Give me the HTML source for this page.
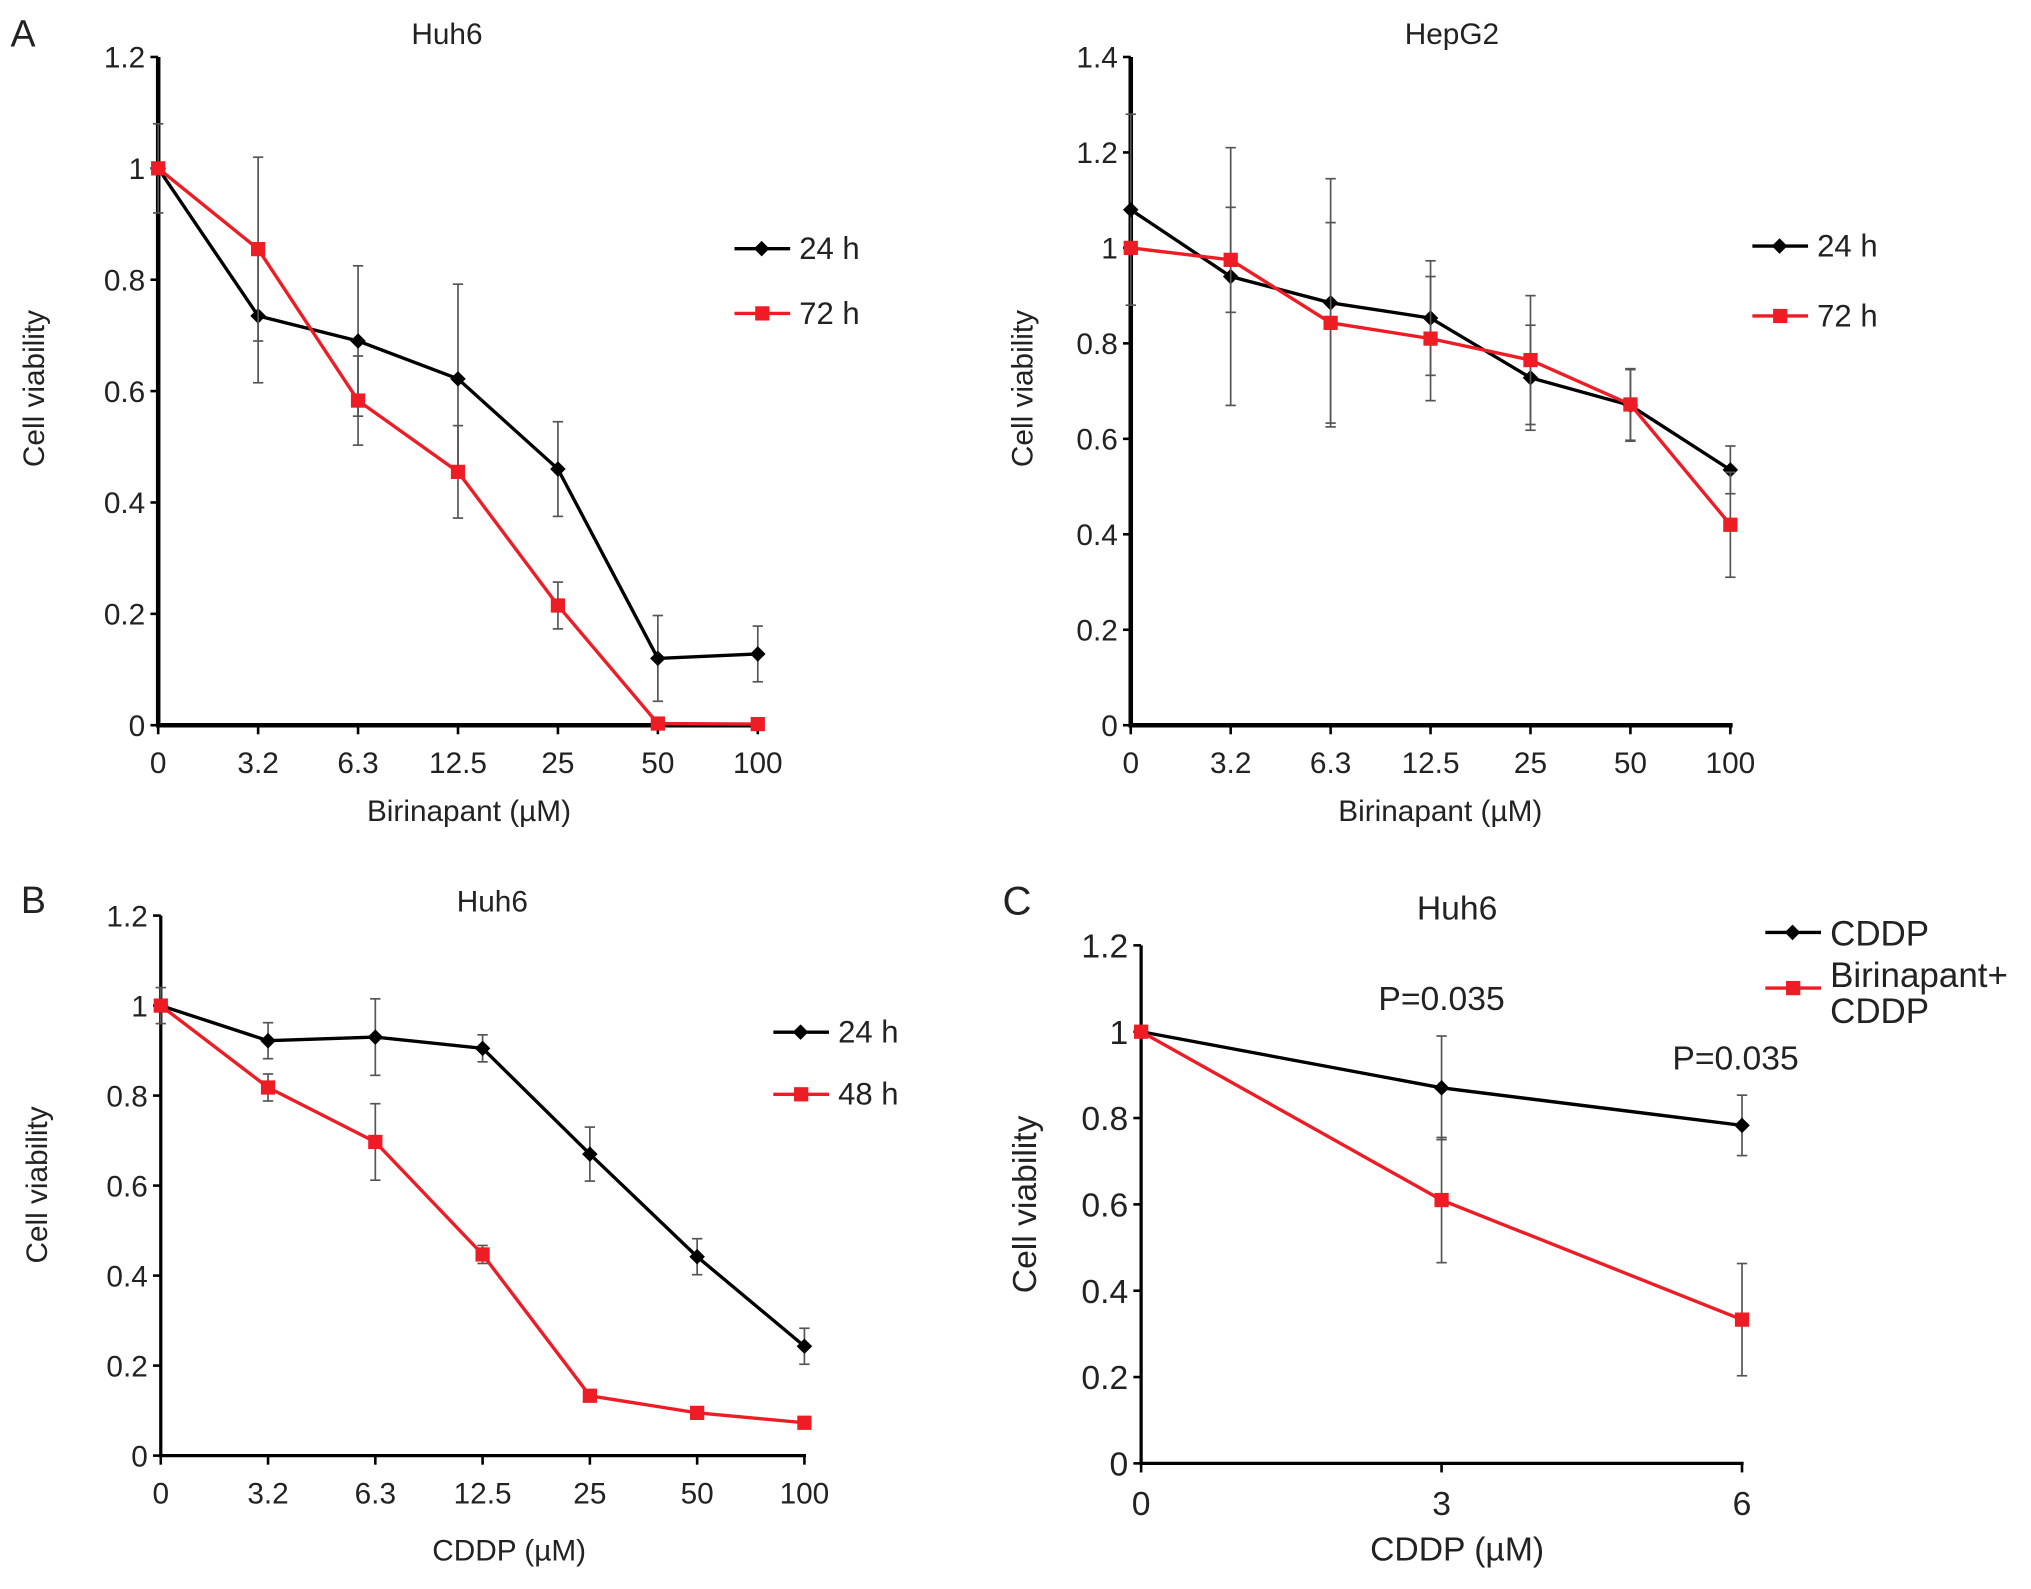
<!DOCTYPE html>
<html><head><meta charset="utf-8"><style>
html,body{margin:0;padding:0;background:#fff}
svg{display:block}
text{font-family:"Liberation Sans",Arial,sans-serif;fill:#222}
</style></head><body>
<svg id="fig" width="2031" height="1589" viewBox="0 0 1568 1227" xmlns="http://www.w3.org/2000/svg"></svg>
<script>
// Panel A Huh6
const xCatsA = ["0","3.2","6.3","12.5","25","50","100"];
const a1_24 = [1, 0.735, 0.69, 0.622, 0.46, 0.12, 0.128];
const a1_24e = [0.08, 0.12, 0.135, 0.17, 0.085, 0.077, 0.05];
const a1_72 = [1, 0.855, 0.583, 0.455, 0.215, 0.003, 0.002];
const a1_72e = [0.0, 0.165, 0.08, 0.083, 0.042, 0.0, 0.0];
const yTicksA1 = [0,0.2,0.4,0.6,0.8,1,1.2];
// Panel A HepG2
const a2_24 = [1.08, 0.94, 0.885, 0.853, 0.728, 0.67, 0.535];
const a2_24e = [0.2, 0.27, 0.26, 0.12, 0.11, 0.075, 0.05];
const a2_72 = [1, 0.975, 0.843, 0.81, 0.765, 0.672, 0.42];
const a2_72e = [0.0, 0.11, 0.21, 0.13, 0.135, 0.075, 0.11];
const yTicksA2 = [0,0.2,0.4,0.6,0.8,1,1.2,1.4];
// Panel B
const b_24 = [1, 0.922, 0.93, 0.905, 0.67, 0.442, 0.243];
const b_24e = [0.04, 0.04, 0.085, 0.03, 0.06, 0.04, 0.04];
const b_48 = [1, 0.818, 0.697, 0.447, 0.133, 0.095, 0.073];
const b_48e = [0.0, 0.03, 0.085, 0.02, 0.01, 0.01, 0.01];
// Panel C
const xCatsC = ["0","3","6"];
const c_cddp = [1, 0.87, 0.783];
const c_cddpE = [0, 0.12, 0.07];
const c_comb = [1, 0.61, 0.333];
const c_combE = [0, 0.145, 0.13];
const pLabels = ["P=0.035","P=0.035"];

const NS="http://www.w3.org/2000/svg";
const svg=document.getElementById('fig');
function el(tag,attrs,parent,txt){const e=document.createElementNS(NS,tag);for(const k in attrs)e.setAttribute(k,attrs[k]);if(txt!==undefined)e.textContent=txt;(parent||svg).appendChild(e);return e;}

function panel(cfg){
  const fs=cfg.fs||23;
  const g=el('g',{});
  
  
  const n=cfg.cats.length;
  const xs=i=>cfg.x0+(cfg.x1-cfg.x0)*i/(n-1);
  const ys=v=>cfg.y0-(cfg.y0-cfg.yTop)*v/cfg.yMax;
  const ya=el('line',{x1:cfg.x0,y1:cfg.yTop,x2:cfg.x0,y2:cfg.y0,stroke:'#000','stroke-width':cfg.aw},g);
  
  const xa=el('line',{x1:cfg.x0-cfg.aw/2,y1:cfg.y0,x2:cfg.x1+cfg.aw/2,y2:cfg.y0,stroke:'#000','stroke-width':cfg.aw},g);
  
  cfg.yTicks.forEach(v=>{
    el('line',{x1:cfg.x0-6,y1:ys(v),x2:cfg.x0,y2:ys(v),stroke:'#000','stroke-width':2},g);
    const t=el('text',{x:cfg.x0-10,y:ys(v)+fs*0.36,'text-anchor':'end','font-size':fs},g,String(v));
    
  });
  cfg.cats.forEach((c,i)=>{
    el('line',{x1:xs(i),y1:cfg.y0,x2:xs(i),y2:cfg.y0+7,stroke:'#000','stroke-width':2},g);
    const t=el('text',{x:xs(i),y:cfg.y0+14+fs,'text-anchor':'middle','font-size':fs},g,c);
    
  });
  cfg.series.forEach(s=>{
    const sg=el('g',{},g);
    
    s.vals.forEach((v,i)=>{
      const e=s.err[i]; if(e>0){
        const x=xs(i);
        el('line',{x1:x,y1:ys(v-e),x2:x,y2:ys(v+e),stroke:'#555','stroke-width':1.3},sg);
        el('line',{x1:x-4,y1:ys(v+e),x2:x+4,y2:ys(v+e),stroke:'#555','stroke-width':1.3},sg);
        el('line',{x1:x-4,y1:ys(v-e),x2:x+4,y2:ys(v-e),stroke:'#555','stroke-width':1.3},sg);
      }
    });
    const pts=s.vals.map((v,i)=>xs(i)+','+ys(v)).join(' ');
    const pl=el('polyline',{points:pts,fill:'none',stroke:s.color,'stroke-width':2.6},sg);
    
    s.vals.forEach((v,i)=>{
      let m;
      if(s.marker==='sq') m=el('rect',{x:xs(i)-5.5,y:ys(v)-5.5,width:11,height:11,fill:s.color},sg);
      else m=el('polygon',{points:`${xs(i)},${ys(v)-6} ${xs(i)+6},${ys(v)} ${xs(i)},${ys(v)+6} ${xs(i)-6},${ys(v)}`,fill:s.color},sg);
      
    });
  });
  const tt=el('text',{x:cfg.titleX,y:cfg.titleY,'text-anchor':'middle','font-size':cfg.tfs||23},g,cfg.title);
  
  const yl=el('text',{x:0,y:0,'text-anchor':'middle','font-size':fs,transform:`translate(${cfg.ylX},${cfg.ylY}) rotate(-90)`},g,'Cell viability');
  
  const xl=el('text',{x:cfg.xlX,y:cfg.xlY,'text-anchor':'middle','font-size':fs},g,cfg.xlabel);
  
  const lt=el('text',{x:cfg.letterX,y:cfg.letterY,'font-size':cfg.lfs||29},g,cfg.letter);
  
  cfg.legend.forEach(L=>{
    const lg=el('g',{},g);
    
    el('line',{x1:L.x,y1:L.y,x2:L.x+43,y2:L.y,stroke:L.color,'stroke-width':2.6},lg);
    if(L.marker==='sq') el('rect',{x:L.x+16,y:L.y-5.5,width:11,height:11,fill:L.color},lg);
    else el('polygon',{points:`${L.x+21},${L.y-6} ${L.x+27},${L.y} ${L.x+21},${L.y+6} ${L.x+15},${L.y}`,fill:L.color},lg);
    L.text.forEach((t,k)=>el('text',{x:L.x+50,y:L.ty+k*28,'font-size':cfg.legfs||24},lg,t));
  });
  return {g,xs,ys};
}

panel({name:'panel-a-huh6',cats:xCatsA,x0:122,x1:585,y0:560,yTop:44,yMax:1.2,yTicks:yTicksA1,aw:3.5,
  series:[{key:'24h',vals:a1_24,err:a1_24e,color:'#000',marker:'d'},{key:'72h',vals:a1_72,err:a1_72e,color:'#ee1c25',marker:'sq'}],
  title:'Huh6',titleX:345,titleY:34,ylX:34,ylY:300,xlabel:'Birinapant (\u00b5M)',xlX:362,xlY:634,letter:'A',letterX:8,letterY:36,
  legend:[{x:567,y:192,ty:200,color:'#000',marker:'d',text:['24 h']},{x:567,y:242,ty:250,color:'#ee1c25',marker:'sq',text:['72 h']}]});

panel({name:'panel-a-hepg2',cats:xCatsA,x0:873,x1:1336,y0:560,yTop:44,yMax:1.4,yTicks:yTicksA2,aw:3.5,
  series:[{key:'24h',vals:a2_24,err:a2_24e,color:'#000',marker:'d'},{key:'72h',vals:a2_72,err:a2_72e,color:'#ee1c25',marker:'sq'}],
  title:'HepG2',titleX:1121,titleY:34,ylX:797,ylY:300,xlabel:'Birinapant (\u00b5M)',xlX:1112,xlY:634,letter:'',letterX:0,letterY:0,
  legend:[{x:1353,y:190,ty:198,color:'#000',marker:'d',text:['24 h']},{x:1353,y:244,ty:252,color:'#ee1c25',marker:'sq',text:['72 h']}]});

panel({name:'panel-b-huh6',cats:xCatsA,x0:124,x1:621,y0:1124,yTop:707,yMax:1.2,yTicks:yTicksA1,aw:2.5,
  series:[{key:'24h',vals:b_24,err:b_24e,color:'#000',marker:'d'},{key:'48h',vals:b_48,err:b_48e,color:'#ee1c25',marker:'sq'}],
  title:'Huh6',titleX:380,titleY:704,ylX:36,ylY:915,xlabel:'CDDP (\u00b5M)',xlX:393,xlY:1205,letter:'B',letterX:16,letterY:705,
  legend:[{x:597,y:797,ty:805,color:'#000',marker:'d',text:['24 h']},{x:597,y:845,ty:853,color:'#ee1c25',marker:'sq',text:['48 h']}]});

const pc=panel({name:'panel-c-huh6',cats:xCatsC,x0:881,x1:1345,y0:1130,yTop:730,yMax:1.2,yTicks:yTicksA1,aw:2.5,fs:26,tfs:26,legfs:27,lfs:31,
  series:[{key:'cddp',vals:c_cddp,err:c_cddpE,color:'#000',marker:'d'},{key:'birinapant-cddp',vals:c_comb,err:c_combE,color:'#ee1c25',marker:'sq'}],
  title:'Huh6',titleX:1125,titleY:710,ylX:800,ylY:930,xlabel:'CDDP (\u00b5M)',xlX:1125,xlY:1205,letter:'C',letterX:774,letterY:706,
  legend:[{x:1363,y:720,ty:730,color:'#000',marker:'d',text:['CDDP']},{x:1363,y:763,ty:762,color:'#ee1c25',marker:'sq',text:['Birinapant+','CDDP']}]});
pLabels.forEach((p,i)=>{
  const idx=i+1;
  const top=c_cddp[idx]+c_cddpE[idx];
  const t=el('text',{x:pc.xs(idx)-(i===1?5:0),y:pc.ys(top)-20,'text-anchor':'middle','font-size':26},pc.g,p);
  
  
});
</script>
</body></html>
